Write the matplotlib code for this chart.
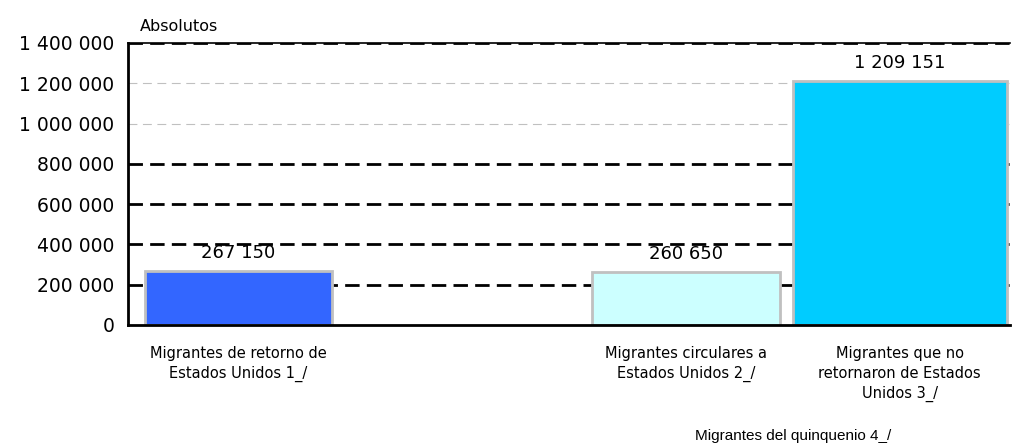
import matplotlib
matplotlib.use("Agg")
import matplotlib.pyplot as plt

plt.rcParams["font.family"] = ["DejaVu Sans"]

categories = [
    "Migrantes de retorno de\nEstados Unidos 1_/",
    "Migrantes circulares a\nEstados Unidos 2_/",
    "Migrantes que no\nretornaron de Estados\nUnidos 3_/",
]
values = [267150, 260650, 1209151]
value_labels = ["267 150", "260 650", "1 209 151"]
group_label = "Migrantes del quinquenio 4_/"
y_ticks = [0, 200000, 400000, 600000, 800000, 1000000, 1200000, 1400000]
y_tick_labels = ["0", "200 000", "400 000", "600 000", "800 000",
                 "1 000 000", "1 200 000", "1 400 000"]

colors = ["#3366FF", "#CCFFFF", "#00CCFF"]
positions = [0, 2.03, 3.0]
widths = [0.85, 0.85, 0.97]

fig = plt.figure(figsize=(10.16, 4.48), dpi=100)
ax = fig.add_axes([0.126, 0.2746, 0.868, 0.6295])

# grid lines: two light ones at the top, the rest heavy black dashes
for t in y_ticks[1:]:
    if t in (1000000, 1200000):
        ax.axhline(t, color="#C0C0C0", lw=0.8, ls=(0, (8, 5)), zorder=1)
    else:
        ax.axhline(t, color="black", lw=2.0, ls=(0, (5.2, 2.6)), zorder=1)

ax.bar(positions, values, width=widths, color=colors,
       edgecolor="#C0C0C0", linewidth=2, zorder=2)

for x, v, lab in zip(positions, values, value_labels):
    ax.text(x, v + 45000, lab, ha="center", va="bottom", fontsize=13, zorder=3)

ax.set_xlim(-0.5, 3.5)
ax.set_ylim(0, 1400000)
ax.set_yticks(y_ticks)
ax.set_yticklabels(y_tick_labels, fontsize=13.5)
ax.tick_params(axis="y", length=0, pad=10)
ax.set_xticks([])

for s in ("left", "bottom"):
    ax.spines[s].set_linewidth(2)
ax.spines["top"].set_linewidth(1.2)
ax.spines["right"].set_visible(False)

for x, c in zip(positions, categories):
    ax.text(x, -0.075, c, transform=ax.get_xaxis_transform(), ha="center",
            va="top", fontsize=10.5, linespacing=1.4)

ax.text((positions[1] + positions[2]) / 2, -0.37, group_label,
        transform=ax.get_xaxis_transform(), ha="center", va="top",
        fontsize=11, family="Liberation Sans")

fig.text(0.138, 0.925, "Absolutos", fontsize=11.5, va="bottom")

fig.savefig("out.png", dpi=100)
